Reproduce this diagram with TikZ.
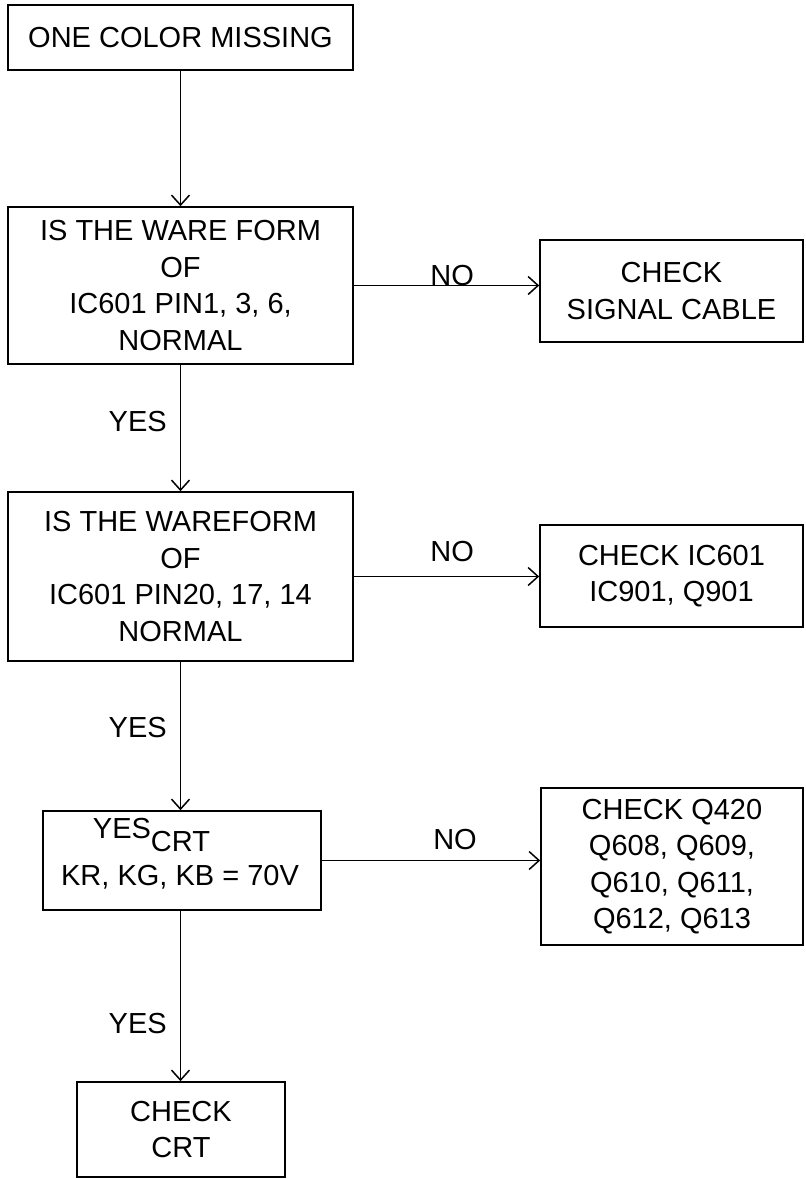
\documentclass[tikz,border=0pt]{standalone}
\usepackage{fontspec}
\setmainfont{Liberation Sans}
\usetikzlibrary{arrows.meta}
\begin{document}
\begin{tikzpicture}[x=1pt,y=-1pt,
  every node/.style={font=\fontsize{29}{36.5}\selectfont},
  box/.style={draw, line width=1.6pt, rectangle, align=center, inner sep=0pt},
  conn/.style={line width=1.5pt, -{Straight Barb[length=10pt,width=18pt,line width=1.5pt]}},
  lbl/.style={inner sep=0pt}]
\useasboundingbox (0,0) rectangle (806,1179);
\node[box, minimum width=345pt, minimum height=65pt] (b1) at (180.5,37.5) {ONE COLOR MISSING};
\node[box, minimum width=345pt, minimum height=157pt] (b2) at (180.5,285.5) {IS THE WARE FORM\\OF\\IC601 PIN1, 3, 6,\\NORMAL};
\node[box, minimum width=263pt, minimum height=102pt] (b3) at (671.5,291) {CHECK\\SIGNAL CABLE};
\node[box, minimum width=345pt, minimum height=169pt] (b4) at (180.5,576.5) {IS THE WAREFORM\\OF\\IC601 PIN20, 17, 14\\NORMAL};
\node[box, minimum width=263pt, minimum height=102pt] (b5) at (671.5,576) {CHECK IC601\\IC901, Q901};
\node[box, minimum width=278pt, minimum height=99pt] (b6) at (182,860.5) {};
\node[lbl] (t6a) at (122,828.5) {YES};
\node[lbl] (t6b) at (180.5,842) {CRT};
\node[lbl] (t6c) at (180,877) {KR, KG, KB = 70V};
\node[box, minimum width=262pt, minimum height=157pt] (b7) at (672,866.5) {CHECK Q420\\Q608, Q609,\\Q610, Q611,\\Q612, Q613};
\node[box, minimum width=208pt, minimum height=95pt] (b8) at (181,1129.5) {CHECK\\CRT};

\draw[conn] (b1.south) -- (b2.north);
\draw[conn] (b2.south) -- node[lbl, pos=0.45, left=13pt] (y1) {YES} (b4.north);
\draw[conn] (b4.south) -- node[lbl, pos=0.44, left=13pt] (y2) {YES} (b4.south |- b6.north);
\draw[conn] (b4.south |- b6.south) -- node[lbl, pos=0.66, left=13pt] (y3) {YES} (b4.south |- b8.north);
\draw[conn] (b2.east) -- node[lbl, pos=0.53, anchor=base] (n1) {NO} (b2.east -| b3.west);
\draw[conn] (b4.east) -- node[lbl, pos=0.53, anchor=south, yshift=14pt] (n2) {NO} (b4.east -| b5.west);
\draw[conn] (b6.east) -- node[lbl, pos=0.61, anchor=south, yshift=10pt] (n3) {NO} (b6.east -| b7.west);
\end{tikzpicture}
\end{document}
